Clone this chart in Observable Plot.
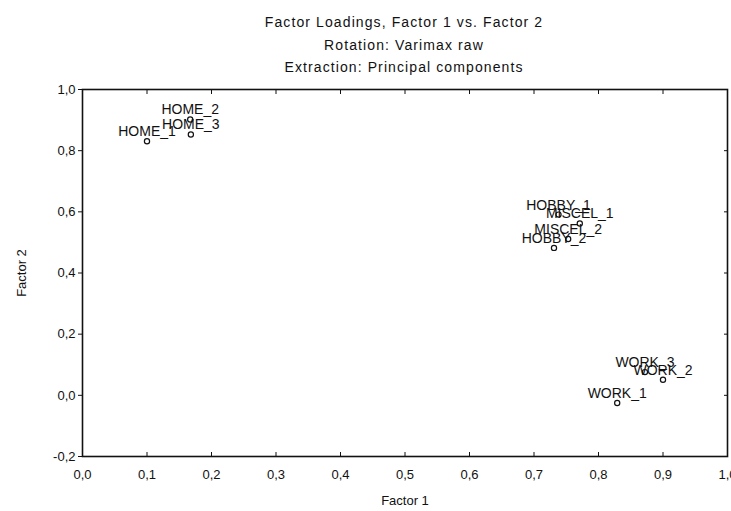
<!DOCTYPE html>
<html>
<head>
<meta charset="utf-8">
<script src="https://cdn.jsdelivr.net/npm/d3@7"></script>
<script src="https://cdn.jsdelivr.net/npm/@observablehq/plot@0.6"></script>
<style>
  html, body { margin: 0; padding: 0; background: white; overflow: hidden; }
  #titles { position: relative; width: 644px; margin-left: 82px; height: 78px; padding-top: 11px; box-sizing: border-box;
            font-family: "Liberation Sans", Arial, sans-serif; font-size: 14px; color: #111; text-align: center; letter-spacing: 1.1px; }
  #titles div { line-height: 22.5px; height: 22.5px; }
  #chart svg { display: block; }
</style>
</head>
<body>
<div id="titles">
  <div>Factor Loadings, Factor 1 vs. Factor 2</div>
  <div>Rotation: Varimax raw</div>
  <div>Extraction: Principal components</div>
</div>
<div id="chart"></div>
<script>
const labels  = ["HOME_1","HOME_2","HOME_3","HOBBY_1","HOBBY_2","MISCEL_1","MISCEL_2","WORK_1","WORK_2","WORK_3"];
const factor1 = [0.100, 0.167, 0.168, 0.738, 0.731, 0.771, 0.753, 0.829, 0.900, 0.872];
const factor2 = [0.831, 0.902, 0.853, 0.591, 0.482, 0.562, 0.511, -0.025, 0.051, 0.076];
const xTicks = [0, 0.1, 0.2, 0.3, 0.4, 0.5, 0.6, 0.7, 0.8, 0.9, 1.0];
const yTicks = [-0.2, 0, 0.2, 0.4, 0.6, 0.8, 1.0];

const data = labels.map((l, i) => ({label: l, f1: factor1[i], f2: factor2[i]}));
const fmt = d3.formatLocale({decimal: ",", thousands: ".", grouping: [3], currency: ["", ""], minus: "-"}).format(".1f");
const none = () => "";

const chart = Plot.plot({
  width: 731,
  height: 433,
  marginTop: 11,
  marginBottom: 55,
  marginLeft: 82,
  marginRight: 4,
  style: {fontFamily: "Liberation Sans, Arial, sans-serif", fontSize: "13px", color: "#111", background: "white", overflow: "visible"},
  x: {domain: [0, 1]},
  y: {domain: [-0.2, 1]},
  marks: [
    Plot.axisX({ticks: xTicks, anchor: "bottom", tickSize: -4, tickFormat: none, label: null}),
    Plot.axisX({ticks: xTicks, anchor: "top", tickSize: -4, tickFormat: none, label: null}),
    Plot.axisY({ticks: yTicks, anchor: "right", tickSize: -4, tickFormat: none, label: null}),
    Plot.axisX({ticks: xTicks, anchor: "bottom", tickSize: 0, tickPadding: 13, tickFormat: fmt, letterSpacing: "0.8px",
                label: "Factor 1", labelAnchor: "center", labelOffset: 48, labelArrow: "none"}),
    Plot.axisY({ticks: yTicks, anchor: "left", tickSize: 4, tickPadding: 3, tickFormat: fmt, letterSpacing: "0.8px",
                label: "Factor 2", labelAnchor: "center", labelOffset: 66, labelArrow: "none"}),
    Plot.frame({stroke: "#111", strokeWidth: 1.6}),
    Plot.dot(data, {x: "f1", y: "f2", r: 2.6, stroke: "#111", strokeWidth: 1.2, fill: "white"}),
    Plot.text(data, {x: "f1", y: "f2", text: "label", dy: -5, lineAnchor: "bottom", fontSize: 14, letterSpacing: "0.6px", fill: "#111"})
  ]
});
document.getElementById("chart").appendChild(chart);
</script>
</body>
</html>
